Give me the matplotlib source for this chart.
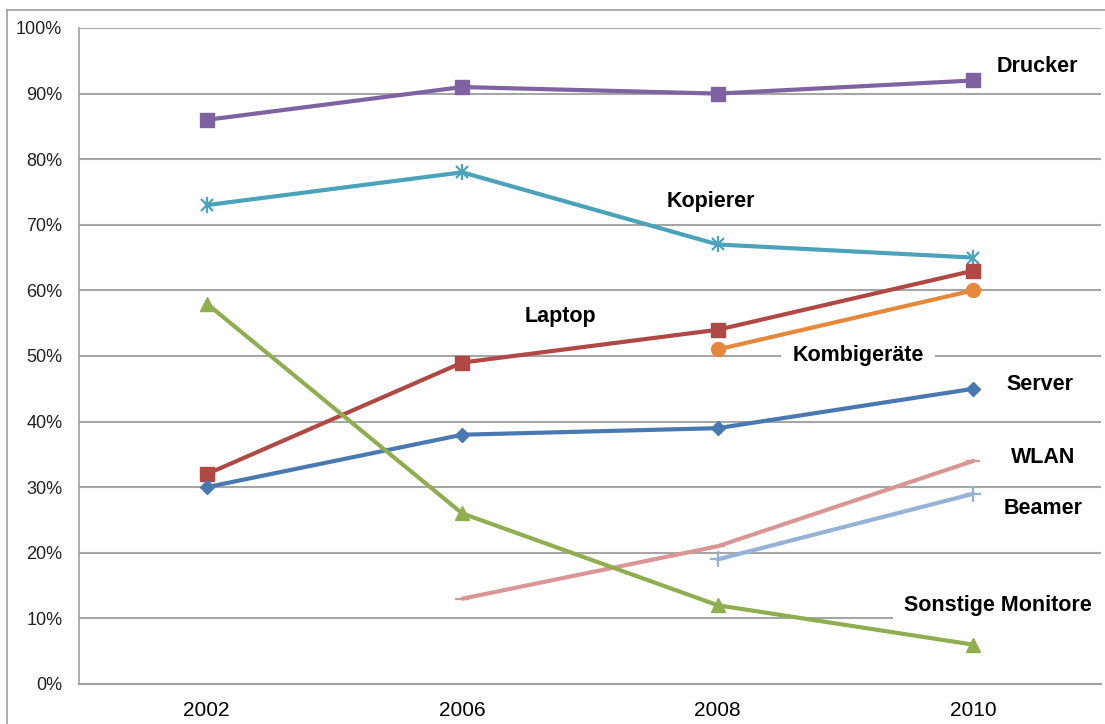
import matplotlib
matplotlib.use("Agg")
import matplotlib.pyplot as plt
import numpy as np
from matplotlib.lines import Line2D

plt.rcParams['font.family'] = ['Liberation Sans', 'DejaVu Sans']

years = ["2002", "2006", "2008", "2010"]
drucker = [86, 91, 90, 92]
kopierer = [73, 78, 67, 65]
laptop = [32, 49, 54, 63]
kombi = [None, None, 51, 60]
server = [30, 38, 39, 45]
wlan = [None, 13, 21, 34]
beamer = [None, None, 19, 29]
monitore = [58, 26, 12, 6]
yticks = [0, 10, 20, 30, 40, 50, 60, 70, 80, 90, 100]

series = [
    ("Drucker", drucker, "#7E62A1", "s", 10.5),
    ("Kopierer", kopierer, "#4BA3BB", "x", 8),
    ("Laptop", laptop, "#B04844", "s", 10.5),
    ("Kombigeräte", kombi, "#E5883A", "o", 10),
    ("Server", server, "#4A78B0", "D", 7.5),
    ("WLAN", wlan, "#D99694", "_", 10),
    ("Beamer", beamer, "#95B3D7", "+", 12),
    ("Sonstige Monitore", monitore, "#8FAE4F", "^", 10.5),
]

fig = plt.figure(figsize=(11.05, 7.24), dpi=100)
ax = fig.add_axes([79/1105, 1-684/724, (1101-79)/1105, (684-28)/724])

# outer chart frame (top and left)
fig.add_artist(Line2D([7/1105, 7/1105], [0, 1-10/724], color="#A0A0A0", lw=1.2, transform=fig.transFigure))
fig.add_artist(Line2D([7/1105, 1], [1-10/724, 1-10/724], color="#A0A0A0", lw=1.2, transform=fig.transFigure))

x = np.arange(len(years))
for name, vals, col, mk, ms in series:
    xs = [xi for xi, v in zip(x, vals) if v is not None]
    ys = [v for v in vals if v is not None]
    ax.plot(xs, ys, color=col, lw=3, marker=mk, markersize=ms,
            markeredgecolor=col, markerfacecolor=col,
            markeredgewidth=1.6 if mk in ("+", "_", "x") else 1,
            zorder=3, solid_capstyle="round")
    if mk == "x":
        ax.plot(xs, ys, linestyle="none", marker="|", markersize=ms + 3,
                markeredgecolor=col, markeredgewidth=1.6, zorder=3)

ax.set_xlim(-0.5, 3.5)
ax.set_ylim(0, 100)
ax.set_yticks(yticks)
ax.set_yticklabels([f"{t}%" for t in yticks], fontsize=13, color="#222222")
ax.set_xticks(x)
ax.set_xticklabels(years, fontsize=15)
ax.tick_params(axis="y", length=0, pad=12)
ax.tick_params(axis="x", length=0, pad=12)
ax.grid(axis="y", color="#A6A6A6", lw=1.5, zorder=0)
for s in ["top", "right"]:
    ax.spines[s].set_visible(False)
ax.spines["left"].set_color("#A0A0A0")
ax.spines["bottom"].set_color("#A0A0A0")
ax.spines["left"].set_linewidth(1.2)
ax.spines["bottom"].set_linewidth(1.5)

labels = [
    ("Drucker", 3.25, 94.1, None),
    ("Kopierer", 1.974, 73.6, None),
    ("Laptop", 1.383, 56.0, None),
    ("Kombigeräte", 2.55, 50.0, "white"),
    ("Server", 3.26, 45.6, None),
    ("WLAN", 3.273, 34.6, None),
    ("Beamer", 3.273, 26.8, None),
    ("Sonstige Monitore", 3.097, 12.0, "white"),
]
for txt, lx, ly, bg in labels:
    kw = {}
    if bg:
        kw["bbox"] = dict(facecolor="white", edgecolor="none", pad=8)
    ax.text(lx, ly, txt, fontsize=15.5, fontweight="bold", ha="center", va="center",
            color="black", zorder=2.5, **kw)

fig.savefig("out.png", dpi=100)
